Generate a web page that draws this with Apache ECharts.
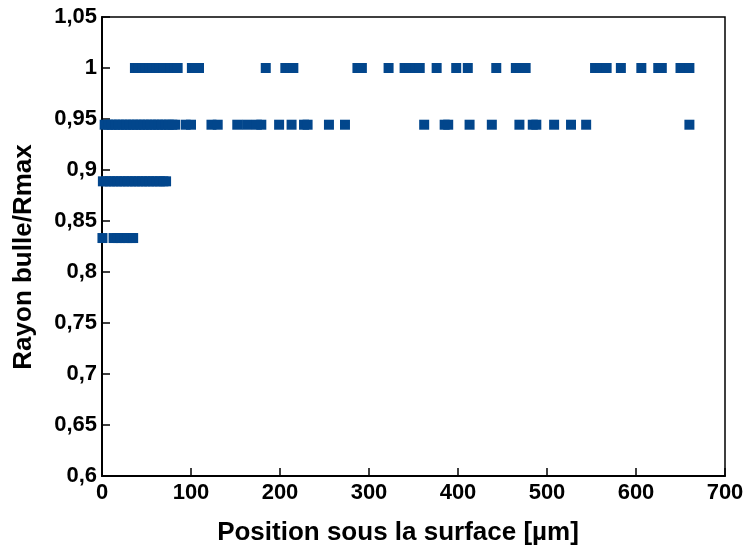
<!DOCTYPE html>
<html>
<head>
<meta charset="utf-8">
<script src="https://cdn.jsdelivr.net/npm/echarts@6/dist/echarts.min.js"></script>
<style>html,body{margin:0;padding:0;background:#fff}#c{width:745px;height:547px}</style>
</head>
<body>
<div id="c"></div>
<script>
// Position sous la surface [µm] for each level of Rayon bulle/Rmax
const levels = [1, 0.9444, 0.8889, 0.8333];
const xRow1 = [37,41,45,49,53,57,61,65,69,73,77,81,85,101,105,109,184,206,212,215,287,292,322,340,345,352,357,376,398,411,443,465,470,476,554,560,567,583,606,625,629,650,655,660];
const xRow2 = [3,7,11,15,19,23,27,31,35,39,43,47,51,55,59,63,67,71,75,79,82,94,100,123,130,152,163,174,179,199,213,227,231,255,273,362,385,389,413,438,469,484,488,508,527,544,660];
const xRow3 = [1,5,9,13,17,21,25,29,33,37,41,45,49,53,57,61,65,69,72];
const xRow4 = [0.5,13,17,21,25,29,33,35];
const xTicks = [0,100,200,300,400,500,600,700];
const yTicks = [0.6,0.65,0.7,0.75,0.8,0.85,0.9,0.95,1,1.05];

const rows = [xRow1, xRow2, xRow3, xRow4];
const points = [];
rows.forEach((r, i) => r.forEach(x => points.push([x, levels[i]])));

const font = 'Liberation Sans, Arial, sans-serif';
const chart = echarts.init(document.getElementById('c'), null, {renderer: 'canvas'});
chart.setOption({
  animation: false,
  backgroundColor: '#fff',
  grid: {left: 102, right: 20, top: 17, bottom: 71, show: true, borderColor: '#000', borderWidth: 1.5,
    containLabel: false, outerBoundsMode: 'none'},
  xAxis: {
    type: 'value', min: xTicks[0], max: xTicks[xTicks.length-1], interval: 100,
    name: 'Position sous la surface [µm]', nameLocation: 'middle', nameGap: 44,
    nameTextStyle: {fontFamily: font, fontWeight: 'bold', fontSize: 26, color: '#000', padding: [0, 31, 0, 0]},
    axisLine: {lineStyle: {color: '#000', width: 2}},
    axisTick: {show: true, inside: true, length: 8, lineStyle: {color: '#000', width: 1.5}},
    axisLabel: {fontFamily: font, fontWeight: 'bold', fontSize: 22, color: '#000', margin: 6},
    splitLine: {show: false}
  },
  yAxis: {
    type: 'value', min: yTicks[0], max: yTicks[yTicks.length-1], interval: 0.05,
    name: 'Rayon bulle/Rmax', nameLocation: 'middle', nameGap: 65,
    nameTextStyle: {fontFamily: font, fontWeight: 'bold', fontSize: 26, color: '#000', padding: [0, 21, 0, 0]},
    axisLine: {lineStyle: {color: '#000', width: 2}},
    axisTick: {show: true, inside: true, length: 8, lineStyle: {color: '#000', width: 1.5}},
    axisLabel: {fontFamily: font, fontWeight: 'bold', fontSize: 22, color: '#000', margin: 5,
      formatter: v => String(Math.round(v*100)/100).replace('.', ',')},
    splitLine: {show: false}
  },
  series: [{
    type: 'scatter', data: points, symbol: 'rect', symbolSize: 10,
    itemStyle: {color: '#02468c', opacity: 1}
  }]
});
</script>
</body>
</html>
